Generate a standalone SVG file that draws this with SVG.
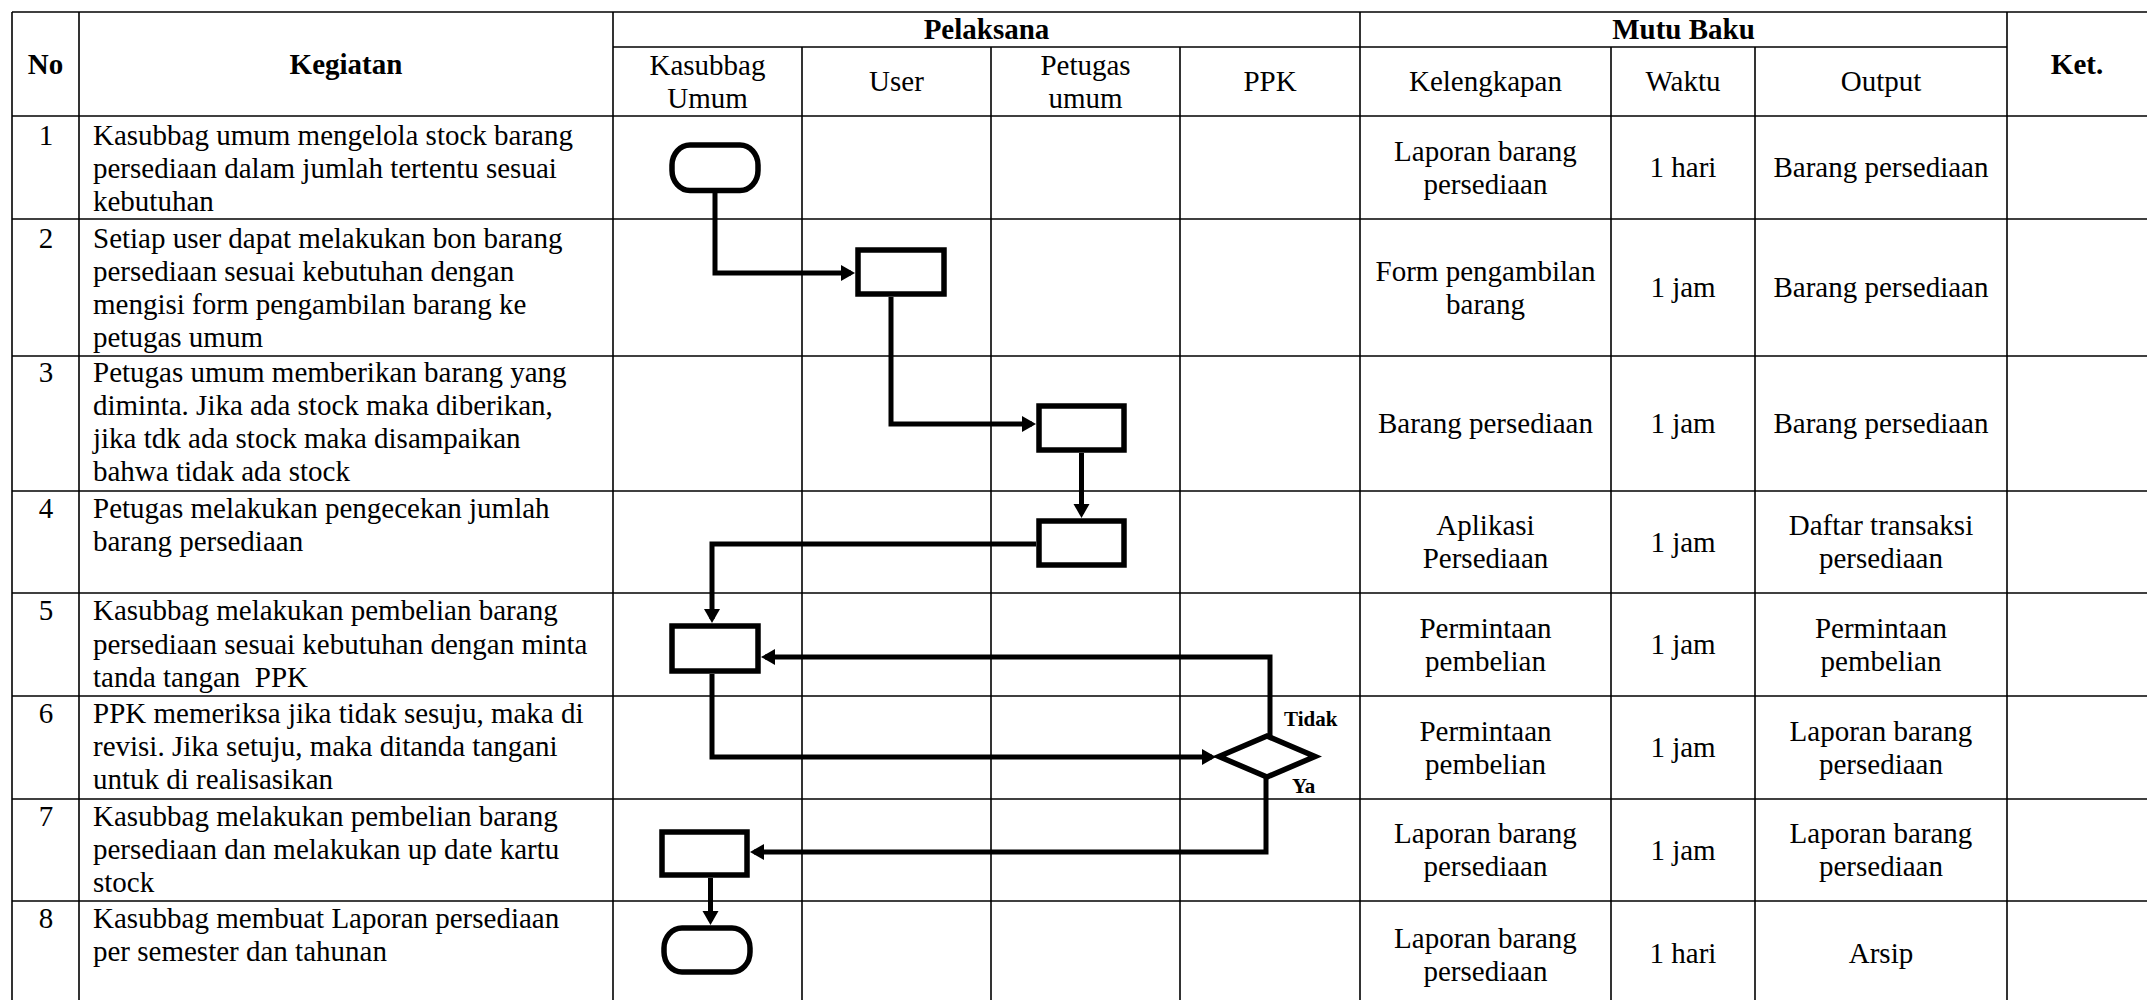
<svg xmlns="http://www.w3.org/2000/svg" width="2147" height="1000" viewBox="0 0 2147 1000">
<style>
  .grid line { stroke: #000; stroke-width: 1.6; }
  text { font-family: "Liberation Serif", "Times New Roman", serif; font-size: 29px; fill: #000; }
  .b { font-weight: bold; }
  .c { text-anchor: middle; }
  .lbl { font-size: 21px; font-weight: bold; }
  .shape { fill: #fff; stroke: #000; stroke-width: 5.5; }
  .conn path { fill: none; stroke: #000; stroke-width: 5; stroke-linejoin: miter; marker-end: url(#arr); }
</style>
<defs>
  <marker id="arr" markerUnits="userSpaceOnUse" markerWidth="15" markerHeight="17" refX="10" refY="8" orient="auto">
    <path d="M0,0 L14,8 L0,16 z" fill="#000"/>
  </marker>
</defs>
<rect width="2147" height="1000" fill="#fff"/>

<g id="table" class="grid">
  <line x1="12" y1="12" x2="2147" y2="12"/>
  <line x1="613" y1="47" x2="2007" y2="47"/>
  <line x1="12" y1="116" x2="2147" y2="116"/>
  <line x1="12" y1="219" x2="2147" y2="219"/>
  <line x1="12" y1="356" x2="2147" y2="356"/>
  <line x1="12" y1="491" x2="2147" y2="491"/>
  <line x1="12" y1="593" x2="2147" y2="593"/>
  <line x1="12" y1="696" x2="2147" y2="696"/>
  <line x1="12" y1="799" x2="2147" y2="799"/>
  <line x1="12" y1="901" x2="2147" y2="901"/>
  <line x1="12" y1="12" x2="12" y2="1000"/>
  <line x1="79" y1="12" x2="79" y2="1000"/>
  <line x1="613" y1="12" x2="613" y2="1000"/>
  <line x1="802" y1="47" x2="802" y2="1000"/>
  <line x1="991" y1="47" x2="991" y2="1000"/>
  <line x1="1180" y1="47" x2="1180" y2="1000"/>
  <line x1="1360" y1="12" x2="1360" y2="1000"/>
  <line x1="1611" y1="47" x2="1611" y2="1000"/>
  <line x1="1755" y1="47" x2="1755" y2="1000"/>
  <line x1="2007" y1="12" x2="2007" y2="1000"/>
</g>

<g id="header">
  <text class="b c" x="45.5" y="73.5">No</text>
  <text class="b c" x="346" y="73.5">Kegiatan</text>
  <text class="b c" x="986.5" y="39">Pelaksana</text>
  <text class="b c" x="1683.5" y="39">Mutu Baku</text>
  <text class="b c" x="2077" y="74">Ket.</text>
  <text class="c" x="707.5" y="74.5">Kasubbag</text>
  <text class="c" x="707.5" y="107.5">Umum</text>
  <text class="c" x="896.5" y="91">User</text>
  <text class="c" x="1085.5" y="74.5">Petugas</text>
  <text class="c" x="1085.5" y="107.5">umum</text>
  <text class="c" x="1270" y="91">PPK</text>
  <text class="c" x="1485.5" y="91">Kelengkapan</text>
  <text class="c" x="1683" y="91">Waktu</text>
  <text class="c" x="1881" y="91">Output</text>
</g>

<g id="rows">
  <text class="c" x="46" y="145">1</text>
  <text x="93" y="145">Kasubbag umum mengelola stock barang</text>
  <text x="93" y="178">persediaan dalam jumlah tertentu sesuai</text>
  <text x="93" y="211">kebutuhan</text>
  <text class="c" x="1485.5" y="160.5">Laporan barang</text>
  <text class="c" x="1485.5" y="193.5">persediaan</text>
  <text class="c" x="1683" y="177">1 hari</text>
  <text class="c" x="1881" y="177">Barang persediaan</text>

  <text class="c" x="46" y="247.5">2</text>
  <text x="93" y="247.5">Setiap user dapat melakukan bon barang</text>
  <text x="93" y="280.5">persediaan sesuai kebutuhan dengan</text>
  <text x="93" y="313.5">mengisi form pengambilan barang ke</text>
  <text x="93" y="346.5">petugas umum</text>
  <text class="c" x="1485.5" y="280.5">Form pengambilan</text>
  <text class="c" x="1485.5" y="313.5">barang</text>
  <text class="c" x="1683" y="297">1 jam</text>
  <text class="c" x="1881" y="297">Barang persediaan</text>

  <text class="c" x="46" y="382">3</text>
  <text x="93" y="382">Petugas umum memberikan barang yang</text>
  <text x="93" y="415">diminta. Jika ada stock maka diberikan,</text>
  <text x="93" y="448">jika tdk ada stock maka disampaikan</text>
  <text x="93" y="481">bahwa tidak ada stock</text>
  <text class="c" x="1485.5" y="433">Barang persediaan</text>
  <text class="c" x="1683" y="433">1 jam</text>
  <text class="c" x="1881" y="433">Barang persediaan</text>

  <text class="c" x="46" y="518">4</text>
  <text x="93" y="518">Petugas melakukan pengecekan jumlah</text>
  <text x="93" y="551">barang persediaan</text>
  <text class="c" x="1485.5" y="535">Aplikasi</text>
  <text class="c" x="1485.5" y="568">Persediaan</text>
  <text class="c" x="1683" y="551.5">1 jam</text>
  <text class="c" x="1881" y="535">Daftar transaksi</text>
  <text class="c" x="1881" y="568">persediaan</text>

  <text class="c" x="46" y="620">5</text>
  <text x="93" y="620">Kasubbag melakukan pembelian barang</text>
  <text x="93" y="653.5">persediaan sesuai kebutuhan dengan minta</text>
  <text x="93" y="687" xml:space="preserve">tanda tangan  PPK</text>
  <text class="c" x="1485.5" y="637.5">Permintaan</text>
  <text class="c" x="1485.5" y="670.5">pembelian</text>
  <text class="c" x="1683" y="654">1 jam</text>
  <text class="c" x="1881" y="637.5">Permintaan</text>
  <text class="c" x="1881" y="670.5">pembelian</text>

  <text class="c" x="46" y="723">6</text>
  <text x="93" y="723">PPK memeriksa jika tidak sesuju, maka di</text>
  <text x="93" y="756">revisi. Jika setuju, maka ditanda tangani</text>
  <text x="93" y="789">untuk di realisasikan</text>
  <text class="c" x="1485.5" y="740.5">Permintaan</text>
  <text class="c" x="1485.5" y="773.5">pembelian</text>
  <text class="c" x="1683" y="757">1 jam</text>
  <text class="c" x="1881" y="740.5">Laporan barang</text>
  <text class="c" x="1881" y="773.5">persediaan</text>

  <text class="c" x="46" y="826">7</text>
  <text x="93" y="826">Kasubbag melakukan pembelian barang</text>
  <text x="93" y="859">persediaan dan melakukan up date kartu</text>
  <text x="93" y="892">stock</text>
  <text class="c" x="1485.5" y="843">Laporan barang</text>
  <text class="c" x="1485.5" y="876">persediaan</text>
  <text class="c" x="1683" y="859.5">1 jam</text>
  <text class="c" x="1881" y="843">Laporan barang</text>
  <text class="c" x="1881" y="876">persediaan</text>

  <text class="c" x="46" y="928">8</text>
  <text x="93" y="928">Kasubbag membuat Laporan persediaan</text>
  <text x="93" y="961">per semester dan tahunan</text>
  <text class="c" x="1485.5" y="947.5">Laporan barang</text>
  <text class="c" x="1485.5" y="980.5">persediaan</text>
  <text class="c" x="1683" y="963">1 hari</text>
  <text class="c" x="1881" y="963">Arsip</text>
</g>

<g id="connectors" class="conn">
  <path d="M715,193 V273 H851"/>
  <path d="M891,297 V424 H1032"/>
  <path d="M1081.5,453 V514"/>
  <path d="M1036,544 H712 V619"/>
  <path d="M1270,736 V657 H765"/>
  <path d="M712,674 V757 H1212"/>
  <path d="M1266,777 V852 H754"/>
  <path d="M710.5,878 V921"/>
</g>

<g id="start"><rect class="shape" x="672" y="145" width="86" height="45.5" rx="18" ry="20"/></g>
<g id="step2"><rect class="shape" x="858" y="250" width="86" height="44"/></g>
<g id="step3"><rect class="shape" x="1039" y="406" width="85" height="44"/></g>
<g id="step4"><rect class="shape" x="1039" y="521" width="85" height="44"/></g>
<g id="step5"><rect class="shape" x="672" y="626" width="86" height="45"/></g>
<g id="decision6"><polygon class="shape" points="1219,756.5 1267,736 1315,756.5 1267,777"/></g>
<g id="step7"><rect class="shape" x="662" y="832" width="85" height="43"/></g>
<g id="end"><rect class="shape" x="664" y="928" width="86" height="44" rx="18" ry="20"/></g>

<g id="labels">
  <text class="lbl" x="1284" y="726">Tidak</text>
  <text class="lbl" x="1292" y="793">Ya</text>
</g>
</svg>
